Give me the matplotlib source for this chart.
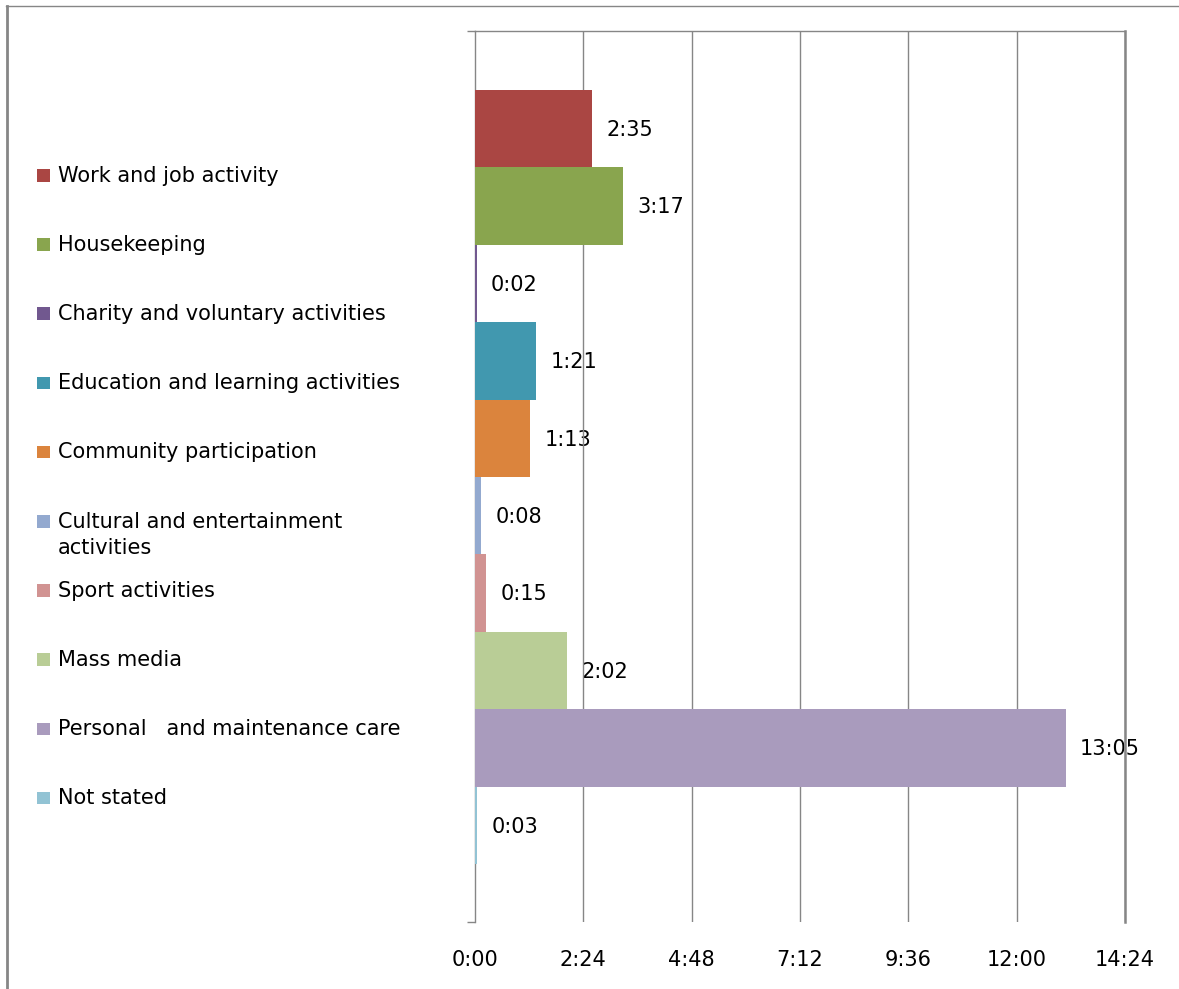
import matplotlib
matplotlib.use("Agg")
import matplotlib.pyplot as plt
from matplotlib.lines import Line2D
from matplotlib.patches import Rectangle

# Average daily time use by activity (minutes)
activities = [
    "Work and job activity",
    "Housekeeping",
    "Charity and voluntary activities",
    "Education and learning activities",
    "Community participation",
    "Cultural and entertainment\nactivities",
    "Sport activities",
    "Mass media",
    "Personal   and maintenance care",
    "Not stated",
]
minutes = [155, 197, 2, 81, 73, 8, 15, 122, 785, 3]
colors = [
    "#AA4643", "#89A54E", "#71588F", "#4198AF", "#DB843D",
    "#93A9CF", "#D19392", "#B9CD96", "#A99BBD", "#92C3D4",
]
tick_minutes = [0, 144, 288, 432, 576, 720, 864]


def hmm(m):
    return f"{int(m) // 60}:{int(m) % 60:02d}"


W, H = 1179, 989
DPI = 100
plt.rcParams["font.family"] = ["DejaVu Sans"]
FS = 15
GRAY = "#868686"

fig = plt.figure(figsize=(W / DPI, H / DPI), dpi=DPI)
fig.patch.set_facecolor("white")

# plot area in pixel coordinates
x0, x1, ytop, ybot = 475, 1125, 31, 922
ax = fig.add_axes([x0 / W, 1 - ybot / H, (x1 - x0) / W, (ybot - ytop) / H])

n = len(minutes)
pos = list(range(n))
ax.barh(pos, minutes, height=1.0, color=colors, zorder=6)

bar_px = 77.4
top_lim = -0.5 - 59 / bar_px
bot_lim = (n - 0.5) + 58 / bar_px
ax.set_ylim(bot_lim, top_lim)
ax.set_xlim(0, 864)

for p, m in zip(pos, minutes):
    ax.annotate(hmm(m), xy=(m, p), xytext=(10.5, -1.0), textcoords="offset points",
                va="center", ha="left", fontsize=FS, color="black", zorder=4)

# vertical gridlines: above the value labels, beneath the bars
for t in tick_minutes[1:]:
    ax.axvline(t, color=GRAY, lw=1, zorder=5)

ax.set_xticks(tick_minutes)
ax.set_xticklabels([hmm(t) for t in tick_minutes], fontsize=FS)
ax.tick_params(axis="x", length=0, pad=20)
ax.set_yticks([top_lim, bot_lim])
ax.set_yticklabels([])
ax.tick_params(axis="y", length=5.8, width=1, color=GRAY, direction="out")
ax.grid(False)

for side in ["top", "right", "left"]:
    ax.spines[side].set_color(GRAY)
    ax.spines[side].set_linewidth(1)
ax.spines["right"].set_linewidth(1.8)
ax.spines["right"].set_zorder(7)
ax.spines["bottom"].set_visible(False)

# legend entries down the left side
base0, step = 181.5, 69.2
for k, (lab, c) in enumerate(zip(activities, colors)):
    base = base0 + k * step
    fig.add_artist(Rectangle((37 / W, 1 - base / H), 13 / W, 12.5 / H,
                             transform=fig.transFigure, facecolor=c, edgecolor="none"))
    lines = lab.split("\n")
    for j, line in enumerate(lines):
        fig.text(58 / W, 1 - (base + j * 27) / H, line, fontsize=FS,
                 va="baseline", ha="left", color="black")

# chart frame edges
fig.add_artist(Line2D([6 / W, 1], [1 - 6 / H, 1 - 6 / H], transform=fig.transFigure,
                      color=GRAY, lw=1))
fig.add_artist(Line2D([7 / W, 7 / W], [0, 1 - 6 / H], transform=fig.transFigure,
                      color=GRAY, lw=2))

fig.savefig("out.png", dpi=DPI, facecolor="white")
